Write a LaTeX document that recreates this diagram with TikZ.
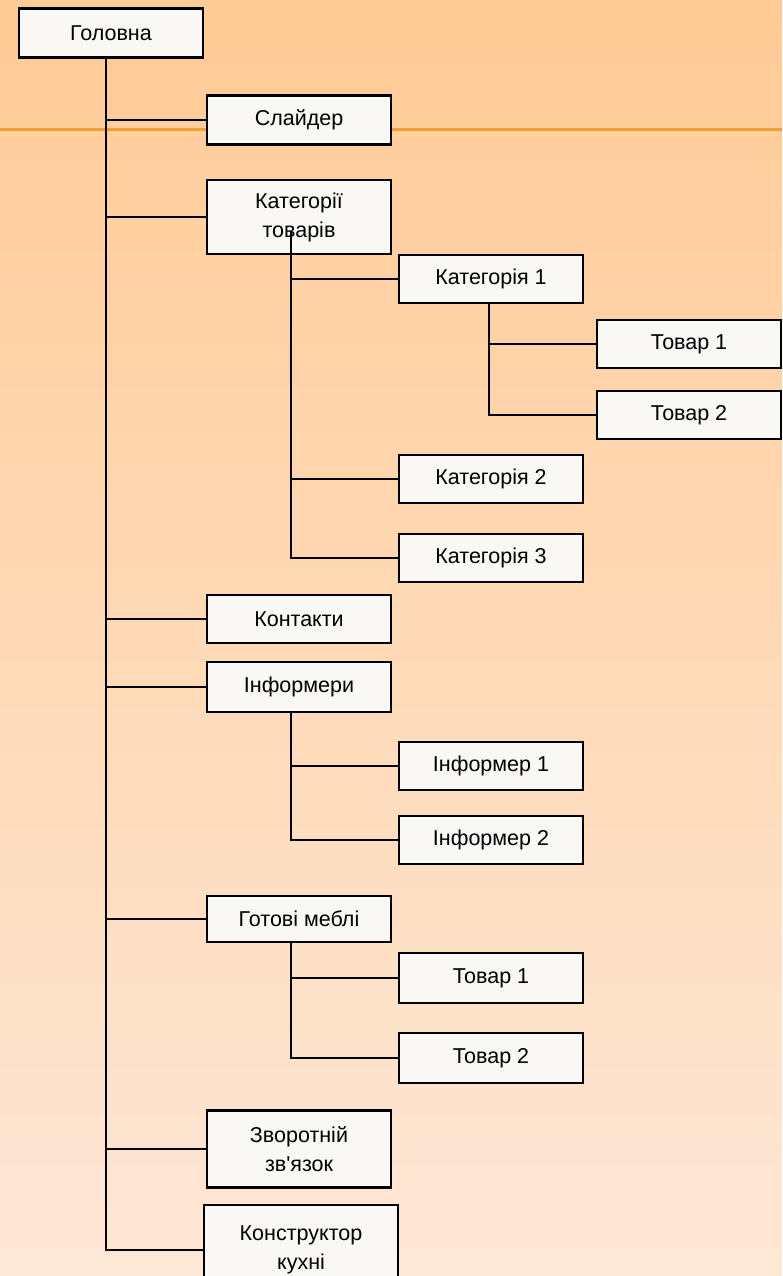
\documentclass[tikz,border=0pt]{standalone}
\usepackage{fontspec}
\setmainfont{Liberation Sans}
\usetikzlibrary{positioning}
\definecolor{bgtop}{HTML}{FFCB96}
\definecolor{bgbottom}{HTML}{FDE7D6}
\definecolor{lineorange}{HTML}{F0A030}
\definecolor{boxfill}{HTML}{F9F8F5}
\begin{document}
\begin{tikzpicture}[x=1pt,y=-1pt]

        % Стилі для сторінок і з'єднань
        \tikzstyle{page} = [rectangle, draw=black, line width=2.6pt, fill=boxfill,
                            minimum width=184pt, minimum height=48pt, inner sep=0pt,
                            align=center, font=\fontsize{21.5}{29}\selectfont]
        \tikzstyle{link} = [draw=black, line width=2.6pt]

        % Фон
        \useasboundingbox (0,0) rectangle (782,1276);
        \fill[top color=bgtop, bottom color=bgbottom] (0,0) rectangle (782,1276);
        \draw[lineorange, line width=3pt] (0,130) -- (782,130);

        % Головна
        \node[page, minimum height=49pt] (home) at (111,33) {Головна};

        % Перший рівень
        \node[page, minimum height=49pt] (slider) at (299,120) {Слайдер};
        \node[page, minimum height=74pt] (cat) at (299,217) {Категорії \\ товарів};
        \node[page] (contacts) at (299,619) {Контакти};
        \node[page, minimum height=50pt] (info) at (299,687) {Інформери};
        \node[page, minimum height=46pt] (ready) at (299,919) {Готові меблі};
        \node[page, minimum height=77pt] (feedback) at (299,1149) {Зворотній \\ зв\textquotesingle язок};
        \node[page, minimum width=194pt, minimum height=90pt] (kitchen) at (301,1250) {Конструктор \\ кухні};

        % Категорії
        \node[page] (cat1) at (491,279) {Категорія 1};
        \node[page] (cat2) at (491,479) {Категорія 2};
        \node[page] (cat3) at (491,558) {Категорія 3};

        % Товари категорії 1
        \node[page] (goods1) at (689,344) {Товар 1};
        \node[page] (goods2) at (689,415) {Товар 2};

        % Інформери
        \node[page] (inf1) at (491,766) {Інформер 1};
        \node[page] (inf2) at (491,840) {Інформер 2};

        % Готові меблі
        \node[page, minimum height=50pt] (item1) at (491,978) {Товар 1};
        \node[page, minimum height=50pt] (item2) at (491,1058) {Товар 2};

        % З'єднання
        \foreach \n in {slider,cat,contacts,info,ready,feedback,kitchen}
            \draw[link] ([xshift=-5pt]home.south) |- (\n.west);
        \foreach \n in {cat1,cat2,cat3}
            \draw[link] ([xshift=-8pt,yshift=24pt]cat.south) |- (\n.west);
        \foreach \n in {goods1,goods2}
            \draw[link] ([xshift=-2pt]cat1.south) |- (\n.west);
        \foreach \n in {inf1,inf2}
            \draw[link] ([xshift=-8pt]info.south) |- (\n.west);
        \foreach \n in {item1,item2}
            \draw[link] ([xshift=-8pt]ready.south) |- (\n.west);

\end{tikzpicture}
\end{document}
